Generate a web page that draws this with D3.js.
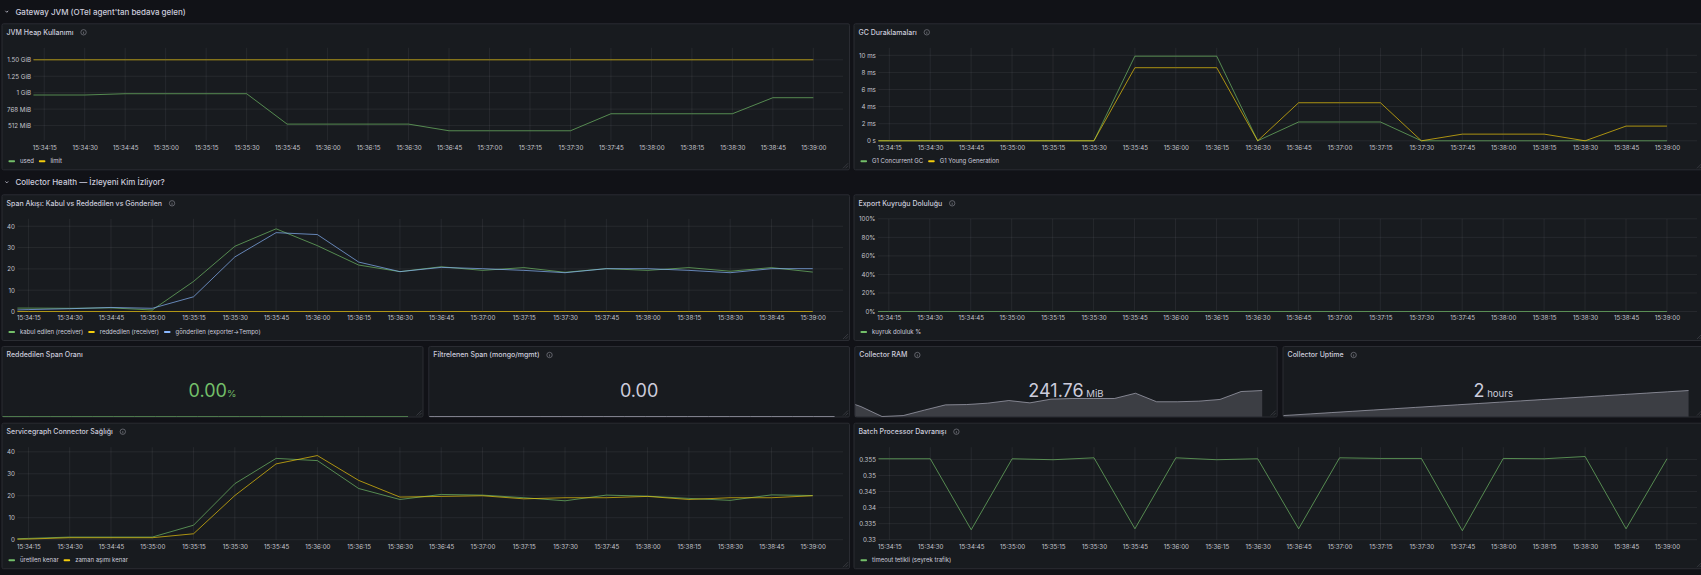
<!DOCTYPE html>
<html>
<head>
<meta charset="utf-8">
<script src="https://cdn.jsdelivr.net/npm/d3@7"></script>
<style>
    body { margin: 0; background: #111217; overflow: hidden; }
    svg text { font-family: Inter, "Noto Sans", sans-serif; }
</style>
</head>
<body>
<div id="vis"></div>
<script>
var width = 1701;
var height = 575;

// 15s scrape timestamps, the first one sits just before the 5m window
var sampleTimes = ["15:34:00", "15:34:15", "15:34:30", "15:34:45", "15:35:00", "15:35:15", "15:35:30",
    "15:35:45", "15:36:00", "15:36:15", "15:36:30", "15:36:45", "15:37:00", "15:37:15", "15:37:30",
    "15:37:45", "15:38:00", "15:38:15", "15:38:30", "15:38:45", "15:39:00"];
var rangeFrom = "15:34:11";
var rangeTo = "15:39:11";

// JVM heap (MiB)
var heapUsed = [988, 988, 988, 1008, 1008, 1008, 1008, 535, 535, 535, 535, 431, 431, 431, 431, 696, 696, 696, 696, 946, 946];
var heapLimit = [1536, 1536, 1536, 1536, 1536, 1536, 1536, 1536, 1536, 1536, 1536, 1536, 1536, 1536, 1536, 1536, 1536, 1536, 1536, 1536, 1536];
var heapTicks = [512, 768, 1024, 1280, 1536];
var heapTickLabels = ["512 MiB", "768 MiB", "1 GiB", "1.25 GiB", "1.50 GiB"];

// GC pauses (ms)
var gcConcurrent = [0, 0, 0, 0, 0, 0, 0, 9.9, 9.9, 9.9, 0, 2.2, 2.2, 2.2, 0, 0, 0, 0, 0, 0, 0];
var gcYoung = [0, 0, 0, 0, 0, 0, 0, 8.55, 8.55, 8.55, 0, 4.45, 4.45, 4.45, 0, 0.78, 0.78, 0.78, 0, 1.72, 1.72];
var gcTicks = [0, 2, 4, 6, 8, 10];
var gcTickLabels = ["0 s", "2 ms", "4 ms", "6 ms", "8 ms", "10 ms"];

// span flow (spans/s)
var spanAccepted = [1.6, 1.6, 1.5, 1.7, 0.7, 14.1, 30.6, 38.8, 30.9, 21.8, 18.7, 21.0, 19.3, 20.6, 18.4, 20.1, 19.3, 20.6, 18.9, 20.6, 18.5];
var spanRefused = [0, 0, 0, 0, 0, 0, 0, 0, 0, 0, 0, 0, 0, 0, 0, 0, 0, 0, 0, 0, 0];
var spanSent = [0.3, 0.9, 1.3, 1.9, 1.5, 6.9, 25.6, 37.0, 36.1, 23.2, 18.7, 20.7, 20.1, 19.3, 18.2, 20.1, 20.1, 19.3, 18.2, 20.1, 20.1];
var countTicks = [0, 10, 20, 30, 40];
var countTickLabels = ["0", "10", "20", "30", "40"];

// export queue fill (%)
var queueFill = [0, 0, 0, 0, 0, 0, 0, 0, 0, 0, 0, 0, 0, 0, 0, 0, 0, 0, 0, 0, 0];
var pctTicks = [0, 20, 40, 60, 80, 100];
var pctTickLabels = ["0%", "20%", "40%", "60%", "80%", "100%"];

// servicegraph edges
var edgesCreated = [0, 0.6, 1.2, 1.2, 1.2, 6.6, 25.5, 37.0, 36.0, 23.3, 18.3, 20.6, 20.3, 19.1, 17.7, 20.3, 19.8, 18.8, 17.9, 20.4, 20.1];
var edgesExpired = [0, 0.3, 0.9, 0.9, 0.9, 2.7, 20.1, 34.5, 38.3, 27.0, 19.4, 19.7, 20.0, 18.6, 19.1, 19.1, 19.7, 18.3, 19.1, 19.1, 20.0];

// batch processor timeout share
var batchTimeout = [0.3552, 0.3552, 0.3552, 0.3331, 0.3552, 0.3549, 0.3555, 0.3334, 0.3555, 0.3549, 0.3552,
    0.3334, 0.3555, 0.3553, 0.3553, 0.3328, 0.3553, 0.3552, 0.3559, 0.3334, 0.3552];
var batchTicks = [0.33, 0.335, 0.34, 0.345, 0.35, 0.355];
var batchTickLabels = ["0.33", "0.335", "0.34", "0.345", "0.35", "0.355"];

// stat panels
var rejectRatio = [0, 0, 0, 0, 0, 0, 0, 0, 0, 0, 0, 0, 0, 0, 0, 0, 0, 0, 0, 0, 0];
var filteredSpans = [0, 0, 0, 0, 0, 0, 0, 0, 0, 0, 0, 0, 0, 0, 0, 0, 0, 0, 0, 0, 0];
var collectorRam = [236.2, 231.4, 225.0, 225.6, 229.1, 232.5, 232.7, 233.6, 235.3, 233.8, 236.2, 236.6, 236.6,
    236.6, 240.0, 234.5, 234.5, 234.9, 236.0, 241.1, 241.76];
var collectorUptime = [7392, 7407, 7422, 7437, 7452, 7467, 7482, 7497, 7512, 7527, 7542, 7557, 7572, 7587,
    7602, 7617, 7632, 7647, 7662, 7677, 7692];

var GREEN = '#73bf69', YELLOW = '#f2cc0c', BLUE = '#8ab8ff', TEXT = '#ccccdc';

var parseTime = d3.timeParse('%H:%M:%S');
var times = sampleTimes.map(parseTime);
var xDomain = [parseTime(rangeFrom), parseTime(rangeTo)];
var clipId = 0;

var svg = d3.select('#vis')
    .append('svg')
    .attr('width', width)
    .attr('height', height);

svg.append('rect')
    .attr('width', width)
    .attr('height', height)
    .attr('fill', '#111217');

function rowHeader(y, label) {
    svg.append('path')
        .attr('d', 'M5.4,' + (y - 1) + ' L6.8,' + (y + 0.5) + ' L8.2,' + (y - 1))
        .attr('fill', 'none')
        .attr('stroke', TEXT)
        .attr('stroke-width', 0.8);
    svg.append('text')
        .attr('x', 15.4)
        .attr('y', y)
        .attr('dy', '0.35em')
        .attr('fill', TEXT)
        .style('font-size', '8px')
        .style('font-weight', 500)
        .text(label);
}

function panelFrame(box, title, info) {
    var g = svg.append('g');
    g.append('rect')
        .attr('x', box.x + 0.5)
        .attr('y', box.y + 0.5)
        .attr('width', box.w - 1)
        .attr('height', box.h - 1)
        .attr('rx', 1.5)
        .attr('fill', '#181b1f')
        .attr('stroke', '#2a2c32')
        .attr('stroke-width', 1);
    var t = g.append('text')
        .attr('x', box.x + 5)
        .attr('y', box.y + 9)
        .attr('dy', '0.35em')
        .attr('fill', TEXT)
        .style('font-size', '7px')
        .style('font-weight', 500)
        .text(title);
    if (info) {
        var cx = box.x + 5 + t.node().getComputedTextLength() + 10;
        g.append('circle')
            .attr('cx', cx)
            .attr('cy', box.y + 9)
            .attr('r', 2.7)
            .attr('fill', 'none')
            .attr('stroke', '#7b7d85')
            .attr('stroke-width', 0.7);
        g.append('line')
            .attr('x1', cx).attr('x2', cx)
            .attr('y1', box.y + 8.4).attr('y2', box.y + 10.6)
            .attr('stroke', '#7b7d85')
            .attr('stroke-width', 0.7);
    }
    // resize handle
    var r = box.x + box.w - 2, b = box.y + box.h - 2;
    g.append('path')
        .attr('d', 'M' + (r - 5) + ',' + b + ' L' + r + ',' + (b - 5) + ' M' + (r - 2.5) + ',' + b + ' L' + r + ',' + (b - 2.5))
        .attr('stroke', '#4a4c53')
        .attr('stroke-width', 0.6);
    return g;
}

function timeSeries(box, cfg) {
    var g = panelFrame(box, cfg.title, true);
    var top = box.y + 24.5;
    var bottom = box.y + box.h - 29.5;
    var right = box.x + box.w - 7;

    var y = d3.scaleLinear().domain(cfg.yDomain).range([bottom, top]);

    var yAxisG = g.append('g');
    yAxisG.call(d3.axisLeft(y)
        .tickValues(cfg.yTicks)
        .tickFormat(function (d, i) { return cfg.yLabels[i]; })
        .tickSize(0)
        .tickPadding(2.5));
    yAxisG.select('.domain').remove();
    yAxisG.selectAll('text')
        .attr('fill', '#c4c5cd')
        .style('font-size', '6.2px')
        .style('font-family', 'Inter, "Noto Sans", sans-serif');
    var axisW = yAxisG.node().getBBox().width;
    var left = box.x + 5.5 + axisW;
    yAxisG.attr('transform', 'translate(' + left + ',0)');

    var x = d3.scaleTime().domain(xDomain).range([left, right]);
    var xTicks = x.ticks(d3.timeSecond.every(15));

    // grid
    g.append('g').selectAll('line')
        .data(xTicks)
        .enter().append('line')
        .attr('x1', function (d) { return x(d); })
        .attr('x2', function (d) { return x(d); })
        .attr('y1', top)
        .attr('y2', bottom)
        .attr('stroke', 'rgba(204,204,220,0.08)')
        .attr('stroke-width', 1);
    g.append('g').selectAll('line')
        .data(cfg.yTicks)
        .enter().append('line')
        .attr('x1', left)
        .attr('x2', right)
        .attr('y1', function (d) { return y(d); })
        .attr('y2', function (d) { return y(d); })
        .attr('stroke', 'rgba(204,204,220,0.08)')
        .attr('stroke-width', 1);

    var xAxisG = g.append('g')
        .attr('transform', 'translate(0,' + (bottom + 4.5) + ')')
        .call(d3.axisBottom(x)
            .tickValues(xTicks)
            .tickFormat(d3.timeFormat('%H:%M:%S'))
            .tickSize(0)
            .tickPadding(0));
    xAxisG.select('.domain').remove();
    xAxisG.selectAll('text')
        .attr('fill', '#c4c5cd')
        .style('font-size', '6.2px')
        .style('font-family', 'Inter, "Noto Sans", sans-serif');

    var id = 'clip' + (clipId++);
    svg.append('clipPath').attr('id', id)
        .append('rect')
        .attr('x', left)
        .attr('y', top - 3)
        .attr('width', right - left)
        .attr('height', bottom - top + 6);

    var line = d3.line()
        .x(function (d, i) { return x(times[i]); })
        .y(function (d) { return y(d); });

    var plot = g.append('g').attr('clip-path', 'url(#' + id + ')');
    cfg.series.forEach(function (s) {
        plot.append('path')
            .datum(s.values)
            .attr('d', line)
            .attr('fill', 'none')
            .attr('stroke', s.color)
            .attr('stroke-opacity', 0.68)
            .attr('stroke-width', 1);
    });

    // legend
    var ly = box.y + box.h - 9;
    var lx = box.x + 7;
    cfg.series.forEach(function (s) {
        g.append('rect')
            .attr('x', lx)
            .attr('y', ly - 1)
            .attr('width', 6.5)
            .attr('height', 2)
            .attr('rx', 0.8)
            .attr('fill', s.color);
        var t = g.append('text')
            .attr('x', lx + 11.5)
            .attr('y', ly)
            .attr('dy', '0.35em')
            .attr('fill', TEXT)
            .style('font-size', '6px')
            .text(s.name);
        lx += 11.5 + t.node().getComputedTextLength() + 5;
    });
}

function statPanel(box, cfg) {
    var g = panelFrame(box, cfg.title, cfg.info);
    var bottom = box.y + box.h - 1;
    var x = d3.scaleTime().domain(xDomain).range([box.x + 1, box.x + box.w]);
    var ext = d3.extent(cfg.values);
    var y = d3.scaleLinear().domain(ext[0] === ext[1] ? [ext[0], ext[0] + 1] : ext)
        .range([bottom, bottom - 26]);

    var id = 'clip' + (clipId++);
    svg.append('clipPath').attr('id', id)
        .append('rect')
        .attr('x', box.x + 1)
        .attr('y', box.y + 1)
        .attr('width', box.w - 2)
        .attr('height', box.h - 1.5);

    var spark = g.append('g').attr('clip-path', 'url(#' + id + ')');
    var area = d3.area()
        .x(function (d, i) { return x(times[i]); })
        .y0(bottom)
        .y1(function (d) { return y(d); });
    var line = d3.line()
        .x(function (d, i) { return x(times[i]); })
        .y(function (d) { return y(d); });
    spark.append('path')
        .datum(cfg.values)
        .attr('d', area)
        .attr('fill', cfg.color)
        .attr('fill-opacity', 0.2);
    spark.append('path')
        .datum(cfg.values)
        .attr('d', line)
        .attr('fill', 'none')
        .attr('stroke', cfg.color)
        .attr('stroke-opacity', 0.55)
        .attr('stroke-width', 1);

    var t = g.append('text')
        .attr('x', box.x + box.w / 2)
        .attr('y', box.y + 50.8)
        .attr('text-anchor', 'middle')
        .attr('fill', cfg.color);
    t.append('tspan')
        .style('font-size', '18px')
        .style('font-weight', 400)
        .text(cfg.display);
    if (cfg.unit) {
        t.append('tspan')
            .style('font-size', '9.6px')
            .text(cfg.unit);
    }
}

rowHeader(11.8, "Gateway JVM (OTel agent'tan bedava gelen)");
rowHeader(182.4, "Collector Health — İzleyeni Kim İzliyor?");

timeSeries({ x: 1.5, y: 23.3, w: 848.5, h: 147 }, {
    title: 'JVM Heap Kullanımı',
    yDomain: [275, 1723], yTicks: heapTicks, yLabels: heapTickLabels,
    series: [
        { name: 'used', color: GREEN, values: heapUsed },
        { name: 'limit', color: YELLOW, values: heapLimit }
    ]
});

timeSeries({ x: 853.5, y: 23.3, w: 850.5, h: 147 }, {
    title: 'GC Duraklamaları',
    yDomain: [0, 10.88], yTicks: gcTicks, yLabels: gcTickLabels,
    series: [
        { name: 'G1 Concurrent GC', color: GREEN, values: gcConcurrent },
        { name: 'G1 Young Generation', color: YELLOW, values: gcYoung }
    ]
});

timeSeries({ x: 1.5, y: 194.3, w: 848.5, h: 146.7 }, {
    title: 'Span Akışı: Kabul vs Reddedilen vs Gönderilen',
    yDomain: [0, 43.5], yTicks: countTicks, yLabels: countTickLabels,
    series: [
        { name: 'kabul edilen (receiver)', color: GREEN, values: spanAccepted },
        { name: 'reddedilen (receiver)', color: YELLOW, values: spanRefused },
        { name: 'gönderilen (exporter→Tempo)', color: BLUE, values: spanSent }
    ]
});

timeSeries({ x: 853.5, y: 194.3, w: 850.5, h: 146.7 }, {
    title: 'Export Kuyruğu Doluluğu',
    yDomain: [0, 100], yTicks: pctTicks, yLabels: pctTickLabels,
    series: [
        { name: 'kuyruk doluluk %', color: GREEN, values: queueFill }
    ]
});

statPanel({ x: 1.5, y: 346, w: 422, h: 71.5 }, {
    title: 'Reddedilen Span Oranı', info: false,
    values: rejectRatio, display: '0.00', unit: '%', color: GREEN
});

statPanel({ x: 428.3, y: 346, w: 421.7, h: 71.5 }, {
    title: 'Filtrelenen Span (mongo/mgmt)', info: true,
    values: filteredSpans, display: '0.00', unit: '', color: TEXT
});

statPanel({ x: 854.3, y: 346, w: 423.4, h: 71.5 }, {
    title: 'Collector RAM', info: true,
    values: collectorRam, display: '241.76', unit: ' MiB', color: TEXT
});

statPanel({ x: 1282.5, y: 346, w: 421.5, h: 71.5 }, {
    title: 'Collector Uptime', info: true,
    values: collectorUptime, display: '2', unit: ' hours', color: TEXT
});

timeSeries({ x: 1.5, y: 422.7, w: 848.5, h: 146.5 }, {
    title: 'Servicegraph Connector Sağlığı',
    yDomain: [0, 42.1], yTicks: countTicks, yLabels: countTickLabels,
    series: [
        { name: 'üretilen kenar', color: GREEN, values: edgesCreated },
        { name: 'zaman aşımı kenar', color: YELLOW, values: edgesExpired }
    ]
});

timeSeries({ x: 853.5, y: 422.7, w: 850.5, h: 146.5 }, {
    title: 'Batch Processor Davranışı',
    yDomain: [0.33, 0.3588], yTicks: batchTicks, yLabels: batchTickLabels,
    series: [
        { name: 'timeout tetikli (seyrek trafik)', color: GREEN, values: batchTimeout }
    ]
});
</script>
</body>
</html>
